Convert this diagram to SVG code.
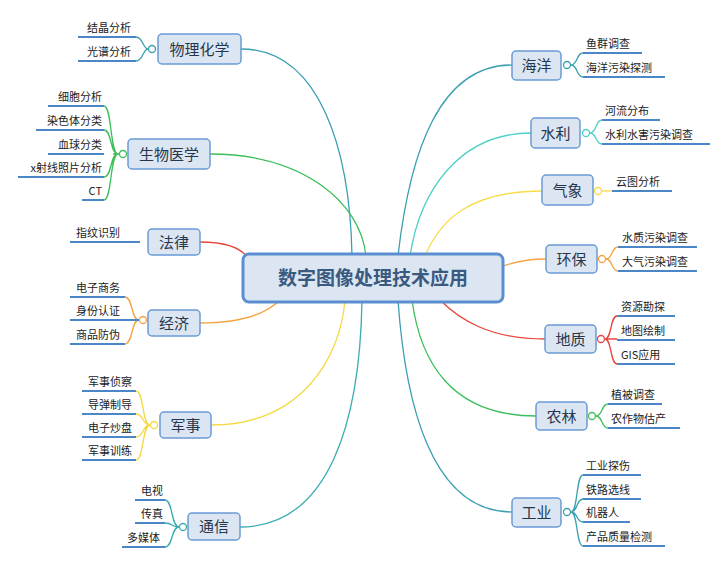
<svg xmlns="http://www.w3.org/2000/svg" width="728" height="578" viewBox="0 0 728 578">
<style>
.n{fill:#dce6f2;stroke:#6b9bd6;stroke-width:1.5}
.nt{font-family:"Noto Sans CJK SC",sans-serif;font-size:15px;fill:#26364d;text-anchor:middle}
.lt{font-family:"Noto Sans CJK SC",sans-serif;font-size:11px;fill:#222}
.u{stroke:#4a86c8;stroke-width:2;fill:none}
.c{fill:none;stroke-width:1.3}
.k{fill:#fff;stroke-width:1.3}
</style>
<rect width="728" height="578" fill="#fff"/>
<g id="connectors">
<path class="c" stroke="#3a9fb0" d="M241,49 C320,49 350,150 352,256"/>
<path class="c" stroke="#3bbf5a" d="M210,154 C300,154 360,200 366,256"/>
<path class="c" stroke="#e8463c" d="M200,242 C230,242 245,250 250,262"/>
<path class="c" stroke="#f4a340" d="M200,323 C240,323 265,315 280,300"/>
<path class="c" stroke="#f5d940" d="M211,425 C300,425 340,360 345,300"/>
<path class="c" stroke="#3aacb0" d="M240,527 C330,527 360,420 362,300"/>
<path class="c" stroke="#3a9fb0" d="M512,65 C440,65 410,150 398,256"/>
<path class="c" stroke="#4fd0c8" d="M531,133 C460,133 420,190 410,256"/>
<path class="c" stroke="#f7dc4a" d="M542,191 C470,191 440,220 425,256"/>
<path class="c" stroke="#f4a340" d="M546,259 C530,259 515,262 503,266"/>
<path class="c" stroke="#e8463c" d="M545,339 C490,339 460,320 440,300"/>
<path class="c" stroke="#3bbf5a" d="M536,416 C450,416 420,360 412,300"/>
<path class="c" stroke="#3a9fb0" d="M512,512 C430,512 405,400 398,300"/>
<!-- brackets -->
<g stroke="#3a9fb0" class="c"><path d="M148,49 C143,49 143,37 136,37 M148,49 C143,49 143,61 136,61"/></g>
<g stroke="#3bbf5a" class="c"><path d="M119,154 L113,154 M118,154 C110,154 112,106 104,106 M118,154 C110,154 112,130 104,130 M118,154 C110,154 112,177 104,177 M118,154 C110,154 112,200 104,200"/></g>
<g stroke="#f4a340" class="c"><path d="M139,320 C131,320 133,297 125,297 M139,320 L125,320 M139,320 C131,320 133,344 125,344"/></g>
<g stroke="#f5d940" class="c"><path d="M150,425 C142,425 144,391 136,391 M150,425 C142,425 144,414 136,414 M150,425 C142,425 144,437 136,437 M150,425 C142,425 144,460 136,460"/></g>
<g stroke="#3aacb0" class="c"><path d="M179,527 C171,527 173,500 165,500 M179,527 C171,527 173,523 165,523 M179,527 C171,527 173,547 165,547"/></g>
<g stroke="#3a9fb0" class="c"><path d="M571,65 C578,65 576,53 583,53 M571,65 C578,65 576,77 583,77"/></g>
<g stroke="#4fd0c8" class="c"><path d="M590,133 C597,133 595,120 602,120 M590,133 C597,133 595,144 602,144"/></g>
<g stroke="#f7dc4a" class="c"><path d="M602,191 L612,191"/></g>
<g stroke="#f4a340" class="c"><path d="M606,259 C613,259 611,247 618,247 M606,259 C613,259 611,271 618,271"/></g>
<g stroke="#e8463c" class="c"><path d="M605,339 C612,339 610,316 617,316 M605,339 L617,339 M605,339 C612,339 610,364 617,364"/></g>
<g stroke="#3bbf5a" class="c"><path d="M596,416 C603,416 601,404 608,404 M596,416 C603,416 601,428 608,428"/></g>
<g stroke="#3a9fb0" class="c"><path d="M571,512 C578,512 576,475 583,475 M571,512 C578,512 576,499 583,499 M571,512 C578,512 576,522 583,522 M571,512 C578,512 576,546 583,546"/></g>
<circle class="k" stroke="#3a9fb0" cx="152" cy="49" r="3.5"/>
<circle class="k" stroke="#3bbf5a" cx="123" cy="154" r="3.5"/>
<circle class="k" stroke="#f4a340" cx="143" cy="320" r="3.5"/>
<circle class="k" stroke="#f5d940" cx="154" cy="425" r="3.5"/>
<circle class="k" stroke="#3aacb0" cx="183" cy="527" r="3.5"/>
<circle class="k" stroke="#3a9fb0" cx="567" cy="65" r="3.5"/>
<circle class="k" stroke="#4fd0c8" cx="586" cy="133" r="3.5"/>
<circle class="k" stroke="#f7dc4a" cx="598" cy="191" r="3.5"/>
<circle class="k" stroke="#f4a340" cx="602" cy="259" r="3.5"/>
<circle class="k" stroke="#e8463c" cx="601" cy="339" r="3.5"/>
<circle class="k" stroke="#3bbf5a" cx="592" cy="416" r="3.5"/>
<circle class="k" stroke="#3a9fb0" cx="567" cy="512" r="3.5"/>
</g>
<g id="center"><rect x="243" y="254" width="260" height="48" rx="6" fill="#dce6f2" stroke="#5b8ed0" stroke-width="3"/><text x="373" y="285" font-family="Noto Sans CJK SC,sans-serif" font-size="19" font-weight="bold" fill="#3a5a80" text-anchor="middle">数字图像处理技术应用</text></g>
<g id="n1"><rect class="n" x="158" y="34" width="83" height="30" rx="4"/><text class="nt" x="199.5" y="54.5">物理化学</text>
<path class="u" d="M78,37 H136 M78,61 H136"/><text class="lt" x="87" y="32">结晶分析</text><text class="lt" x="87" y="56">光谱分析</text></g>
<g id="n2"><rect class="n" x="128" y="139" width="82" height="30" rx="4"/><text class="nt" x="169" y="159.5">生物医学</text>
<path class="u" d="M48,106 H104 M36,130 H104 M48,154 H104 M18,177 H104 M82,200 H104"/>
<g class="lt" text-anchor="end"><text x="102" y="101">细胞分析</text><text x="102" y="125">染色体分类</text><text x="102" y="149">血球分类</text><text x="102" y="172">x射线照片分析</text><text x="102" y="195">CT</text></g></g>
<g id="n3"><rect class="n" x="148" y="229" width="52" height="26" rx="4"/><text class="nt" x="174" y="247.5">法律</text>
<path class="u" d="M70,242 H140"/><text class="lt" x="76" y="237">指纹识别</text></g>
<g id="n4"><rect class="n" x="148" y="310" width="52" height="26" rx="4"/><text class="nt" x="174" y="328.5">经济</text>
<path class="u" d="M70,297 H125 M70,320 H139 M70,344 H125"/><text class="lt" x="76" y="292">电子商务</text><text class="lt" x="76" y="315">身份认证</text><text class="lt" x="76" y="339">商品防伪</text></g>
<g id="n5"><rect class="n" x="160" y="412" width="51" height="26" rx="4"/><text class="nt" x="185.5" y="430.5">军事</text>
<path class="u" d="M82,391 H136 M82,414 H136 M82,437 H136 M82,460 H136"/><text class="lt" x="88" y="386">军事侦察</text><text class="lt" x="88" y="409">导弹制导</text><text class="lt" x="88" y="432">电子炒盘</text><text class="lt" x="88" y="455">军事训练</text></g>
<g id="n6"><rect class="n" x="188" y="513" width="52" height="27" rx="4"/><text class="nt" x="214" y="532">通信</text>
<path class="u" d="M135,500 H165 M135,523 H165 M122,547 H165"/><text class="lt" x="141" y="495">电视</text><text class="lt" x="141" y="518">传真</text><text class="lt" x="127" y="542">多媒体</text></g>
<g id="n7"><rect class="n" x="512" y="51" width="49" height="29" rx="4"/><text class="nt" x="536.5" y="70.5">海洋</text>
<path class="u" d="M583,53 H642 M583,77 H665"/><text class="lt" x="586" y="48">鱼群调查</text><text class="lt" x="586" y="72">海洋污染探测</text></g>
<g id="n8"><rect class="n" x="531" y="118" width="49" height="30" rx="4"/><text class="nt" x="555.5" y="138.5">水利</text>
<path class="u" d="M602,120 H660 M602,144 H710"/><text class="lt" x="605" y="115">河流分布</text><text class="lt" x="605" y="139">水利水害污染调查</text></g>
<g id="n9"><rect class="n" x="542" y="175" width="51" height="30" rx="4"/><text class="nt" x="567.5" y="195.5">气象</text>
<path class="u" d="M612,191 H672"/><text class="lt" x="616" y="186">云图分析</text></g>
<g id="n10"><rect class="n" x="546" y="245" width="51" height="28" rx="4"/><text class="nt" x="571.5" y="264.5">环保</text>
<path class="u" d="M618,247 H697 M618,271 H697"/><text class="lt" x="622" y="242">水质污染调查</text><text class="lt" x="622" y="266">大气污染调查</text></g>
<g id="n11"><rect class="n" x="545" y="325" width="51" height="28" rx="4"/><text class="nt" x="570.5" y="344.5">地质</text>
<path class="u" d="M617,316 H675 M617,340 H675 M617,364 H675"/><text class="lt" x="621" y="311">资源勘探</text><text class="lt" x="621" y="335">地图绘制</text><text class="lt" x="621" y="359">GIS应用</text></g>
<g id="n12"><rect class="n" x="536" y="402" width="51" height="28" rx="4"/><text class="nt" x="561.5" y="421.5">农林</text>
<path class="u" d="M608,404 H662 M608,428 H680"/><text class="lt" x="611" y="399">植被调查</text><text class="lt" x="611" y="423">农作物估产</text></g>
<g id="n13"><rect class="n" x="512" y="498" width="49" height="29" rx="4"/><text class="nt" x="536.5" y="517.5">工业</text>
<path class="u" d="M583,475 H641 M583,499 H641 M583,522 H630 M583,546 H665"/><text class="lt" x="586" y="470">工业探伤</text><text class="lt" x="586" y="494">铁路选线</text><text class="lt" x="586" y="517">机器人</text><text class="lt" x="586" y="541">产品质量检测</text></g>
</svg>
